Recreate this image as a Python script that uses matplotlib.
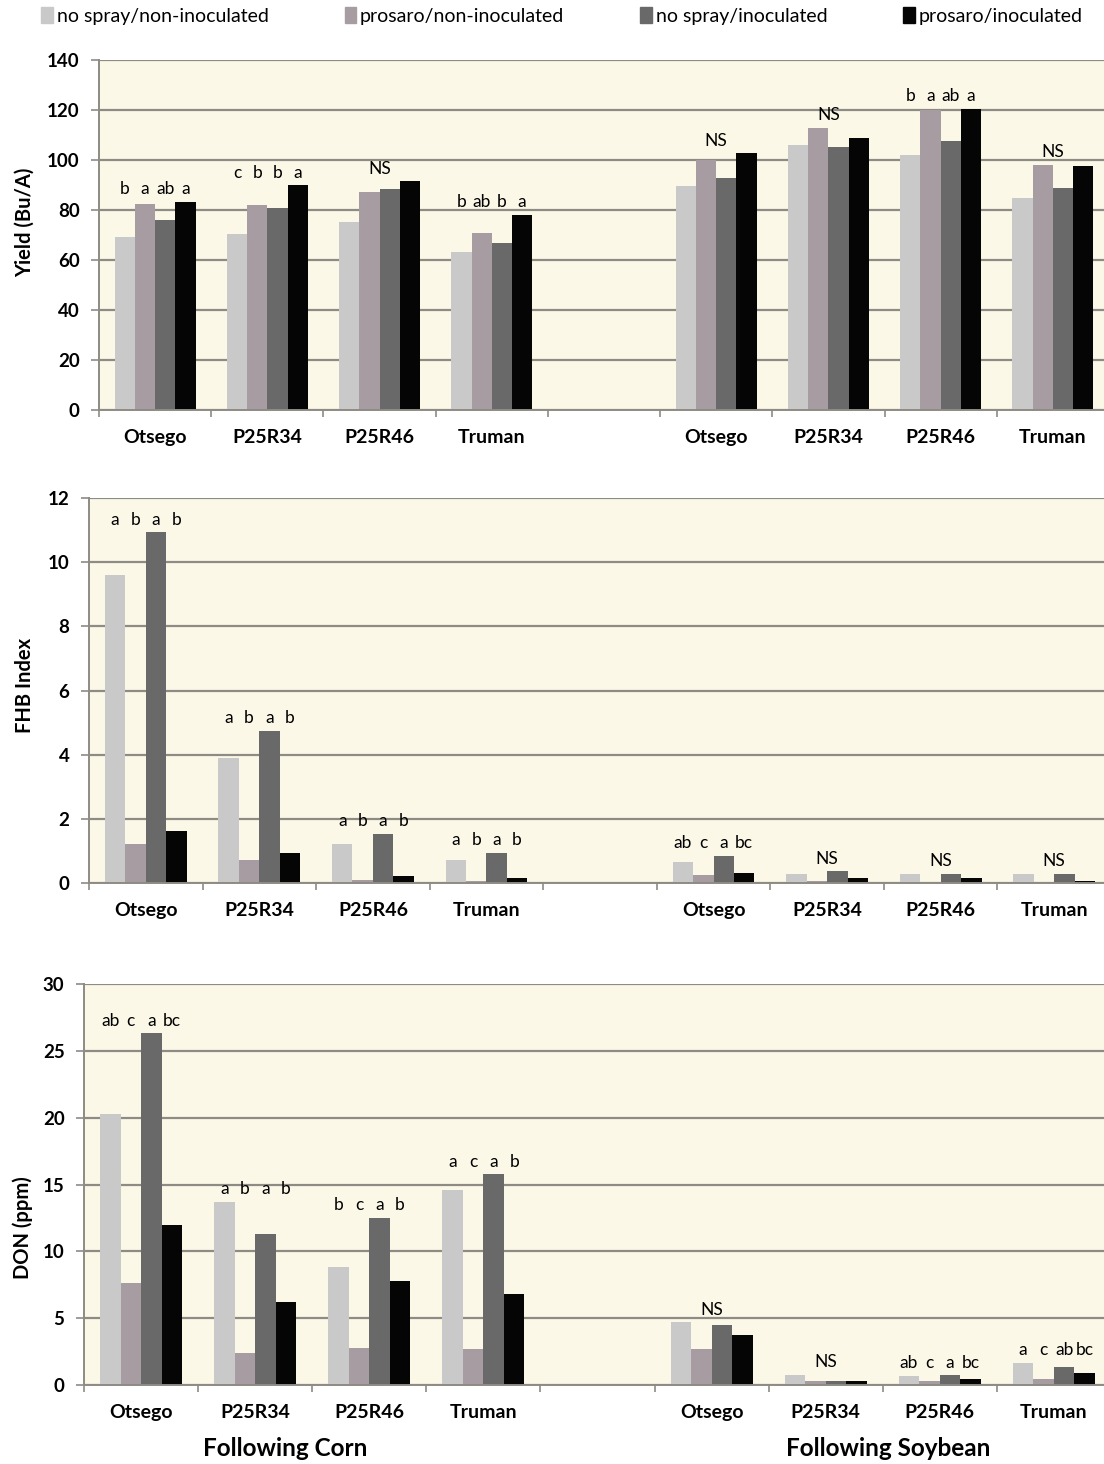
import numpy as np
import matplotlib
matplotlib.use('Agg')
import matplotlib.pyplot as plt
from matplotlib.patches import Patch

plt.rcParams['font.family'] = ['Lato', 'DejaVu Sans']

# data
cultivars = ['Otsego', 'P25R34', 'P25R46', 'Truman']
treatments = ['no spray/non-inoculated', 'prosaro/non-inoculated',
              'no spray/inoculated', 'prosaro/inoculated']

# rows = cultivar, columns = treatment
yield_corn = [[69.3, 82.4, 76.0, 83.2], [70.4, 81.9, 80.8, 90.0],
              [75.2, 87.2, 88.5, 91.5], [63.2, 70.7, 66.7, 78.1]]
yield_soy = [[89.6, 100.0, 93.0, 102.7], [106.1, 113.0, 105.3, 108.8],
             [102.1, 120.0, 107.7, 120.5], [84.8, 98.1, 88.8, 97.6]]
fhb_corn = [[9.6, 1.23, 10.94, 1.62], [3.91, 0.71, 4.74, 0.94],
            [1.21, 0.10, 1.54, 0.23], [0.71, 0.06, 0.94, 0.17]]
fhb_soy = [[0.65, 0.25, 0.85, 0.31], [0.29, 0.05, 0.37, 0.17],
           [0.27, 0.04, 0.29, 0.15], [0.27, 0.03, 0.29, 0.06]]
don_corn = [[20.3, 7.6, 26.3, 12.0], [13.7, 2.4, 11.3, 6.2],
            [8.85, 2.74, 12.5, 7.8], [14.6, 2.7, 15.75, 6.8]]
don_soy = [[4.7, 2.66, 4.46, 3.71], [0.77, 0.32, 0.32, 0.32],
           [0.67, 0.30, 0.72, 0.42], [1.67, 0.47, 1.32, 0.92]]

# mean separation letters
yield_corn_letters = [['b', 'a', 'ab', 'a'], ['c', 'b', 'b', 'a'], 'NS', ['b', 'ab', 'b', 'a']]
yield_soy_letters = ['NS', 'NS', ['b', 'a', 'ab', 'a'], 'NS']
fhb_corn_letters = [['a', 'b', 'a', 'b'], ['a', 'b', 'a', 'b'], ['a', 'b', 'a', 'b'], ['a', 'b', 'a', 'b']]
fhb_soy_letters = [['ab', 'c', 'a', 'bc'], 'NS', 'NS', 'NS']
don_corn_letters = [['ab', 'c', 'a', 'bc'], ['a', 'b', 'a', 'b'], ['b', 'c', 'a', 'b'], ['a', 'c', 'a', 'b']]
don_soy_letters = ['NS', 'NS', ['ab', 'c', 'a', 'bc'], ['a', 'c', 'ab', 'bc']]

colors = ['#c9c9c9', '#a69ca1', '#696969', '#050505']
bg = '#fcf8e8'
gridc = '#8e8b84'
W, H = 1104, 1464


def panel(rect, corn, soy, corn_let, soy_let, ymax, ystep):
    ax = fig.add_axes(rect)
    ax.set_facecolor(bg)
    bw = 0.18
    groups = list(zip(range(4), corn, corn_let)) + list(zip(range(5, 9), soy, soy_let))
    for x, vals, lets in groups:
        for j in range(4):
            ax.bar(x + (j - 1.5) * bw, vals[j], bw, color=colors[j], zorder=2)
        top = max(vals)
        if lets == 'NS':
            ax.annotate('NS', (x, top), xytext=(0, 9), textcoords='offset points',
                        ha='center', va='center', fontsize=12.5)
        else:
            for j in range(4):
                ax.annotate(lets[j], (x + (j - 1.5) * bw, top), xytext=(0, 9),
                            textcoords='offset points', ha='center', va='center',
                            fontsize=12.5)
    ax.set_xlim(-0.5, 8.5)
    ax.set_ylim(0, ymax)
    ax.set_yticks(np.arange(0, ymax + 0.1, ystep))
    ax.yaxis.grid(True, color=gridc, lw=1.6)
    ax.set_axisbelow(True)
    ax.set_xticks(range(9))
    ax.set_xticklabels(cultivars + [''] + cultivars, fontweight='bold', fontsize=14)
    ax.set_xticks(np.arange(-0.5, 8.6, 1), minor=True)
    ax.tick_params(axis='x', which='major', length=0, pad=14)
    ax.tick_params(axis='x', which='minor', length=5, color=gridc, width=1.2)
    ax.tick_params(axis='y', length=6, color=gridc, width=1.2, pad=8, labelsize=13.5)
    for t in ax.get_yticklabels():
        t.set_fontweight('bold')
    for s in ['top', 'right']:
        ax.spines[s].set_visible(False)
    for s in ['left', 'bottom']:
        ax.spines[s].set_color(gridc)
        ax.spines[s].set_linewidth(1.4)
    return ax


fig = plt.figure(figsize=(W / 100, H / 100), dpi=100)

panel([99 / W, 1054 / H, 1010 / W, 350 / H], yield_corn, yield_soy,
      yield_corn_letters, yield_soy_letters, 140, 20)
panel([89 / W, 581 / H, 1022 / W, 385 / H], fhb_corn, fhb_soy,
      fhb_corn_letters, fhb_soy_letters, 12, 2)
panel([84 / W, 79 / H, 1027 / W, 401 / H], don_corn, don_soy,
      don_corn_letters, don_soy_letters, 30, 5)

fig.text(25 / W, 1 - 222 / H, 'Yield (Bu/A)', rotation=90, ha='center', va='center',
         fontsize=14.5, fontweight='bold')
fig.text(25 / W, 1 - 685 / H, 'FHB Index', rotation=90, ha='center', va='center',
         fontsize=14.5, fontweight='bold')
fig.text(23 / W, 1 - 1228 / H, 'DON (ppm)', rotation=90, ha='center', va='center',
         fontsize=14.5, fontweight='bold')
fig.text(285 / W, 1 - 1449 / H, 'Following Corn', ha='center', va='center',
         fontsize=17.5, fontweight='bold')
fig.text(888 / W, 1 - 1449 / H, 'Following Soybean', ha='center', va='center',
         fontsize=17.5, fontweight='bold')

handles = [Patch(color=c) for c in colors]
fig.legend(handles, treatments, loc='center', bbox_to_anchor=(562 / W, 1 - 16 / H),
           ncol=4, frameon=False, fontsize=14, handlelength=0.6, handleheight=0.9,
           handletextpad=0.2, columnspacing=3.9, borderpad=0.2)

fig.savefig('out.png', dpi=100, facecolor='white')
